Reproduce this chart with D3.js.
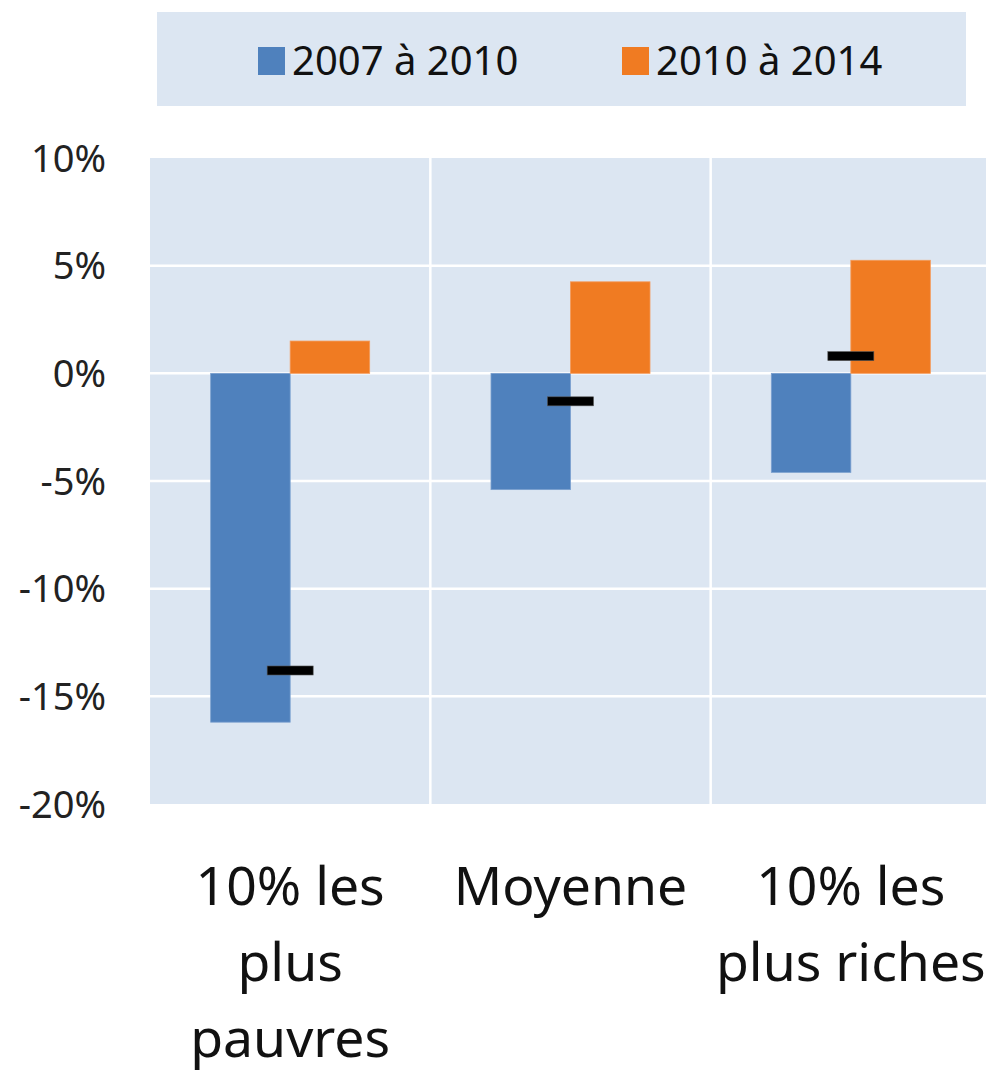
<!DOCTYPE html>
<html>
<head>
<meta charset="utf-8">
<script src="https://cdn.jsdelivr.net/npm/d3@7/dist/d3.min.js"></script>
<style>
  html, body { margin: 0; padding: 0; background: #fff; }
  svg { display: block; font-family: "Noto Sans", sans-serif; }
</style>
</head>
<body>
<svg class="chart"></svg>
<script>
const width = 986,
  height = 1070;

// data
const categories = ["10% les plus pauvres", "Moyenne", "10% les plus riches"];
const categoryLines = [["10% les", "plus", "pauvres"], ["Moyenne"], ["10% les", "plus riches"]];
const seriesNames = ["2007 à 2010", "2010 à 2014"];
const values2007 = [-16.2, -5.4, -4.6];
const values2010 = [1.5, 4.25, 5.25];
const totals = [-13.8, -1.3, 0.8];
const yTicks = [10, 5, 0, -5, -10, -15, -20];

const colors = ["#4f81bd", "#f07b22"];
const plotBg = "#dce6f2";

const margin = { top: 158, right: -5, bottom: 266, left: 150 };

let chart = d3.select(".chart")
  .attr("width", width)
  .attr("height", height);

let x0 = d3.scaleBand()
  .domain(categories)
  .range([margin.left, width - margin.right])
  .padding(0);

let x1 = d3.scaleBand()
  .domain(seriesNames)
  .range([0, x0.bandwidth()])
  .paddingInner(0)
  .paddingOuter(0.763);

let y = d3.scaleLinear()
  .domain([-20, 10])
  .range([height - margin.bottom, margin.top]);

// plot background
chart.append("rect")
  .attr("x", margin.left)
  .attr("y", margin.top)
  .attr("width", width - margin.right - margin.left)
  .attr("height", y(-20) - y(10))
  .attr("fill", plotBg);

// horizontal gridlines
chart.append("g").selectAll("line")
  .data(yTicks.filter(d => d > -20 && d < 10))
  .enter().append("line")
  .attr("x1", margin.left)
  .attr("x2", width - margin.right)
  .attr("y1", d => y(d))
  .attr("y2", d => y(d))
  .attr("stroke", "#fff")
  .attr("stroke-width", 2.5);

// vertical gridlines between categories
chart.append("g").selectAll("line")
  .data(categories.slice(1))
  .enter().append("line")
  .attr("x1", d => x0(d))
  .attr("x2", d => x0(d))
  .attr("y1", y(10))
  .attr("y2", y(-20))
  .attr("stroke", "#fff")
  .attr("stroke-width", 2.5);

// bars
let rows = categories.map((c, i) => ({ cat: c, vals: [values2007[i], values2010[i]] }));

let groups = chart.append("g").selectAll("g")
  .data(rows)
  .enter().append("g")
  .attr("transform", d => `translate(${x0(d.cat)},0)`);

groups.selectAll("rect")
  .data(d => d.vals.map((v, j) => ({ s: seriesNames[j], v: v, j: j })))
  .enter().append("rect")
  .attr("x", d => x1(d.s))
  .attr("width", x1.bandwidth())
  .attr("y", d => y(Math.max(0, d.v)))
  .attr("height", d => Math.abs(y(d.v) - y(0)))
  .attr("fill", d => colors[d.j])
  .attr("stroke", d => d.j === 0 ? "#7aa0cf" : "#f49a5a")
  .attr("stroke-width", 0.8);

// total markers
chart.append("g").selectAll("rect")
  .data(totals)
  .enter().append("rect")
  .attr("x", (d, i) => x0(categories[i]) + x0.bandwidth() / 2 - 23)
  .attr("y", d => y(d) - 4.5)
  .attr("width", 46)
  .attr("height", 9)
  .attr("fill", "#000")
  .attr("stroke", "#555")
  .attr("stroke-width", 0.6);

// y tick labels
chart.append("g").selectAll("text")
  .data(yTicks)
  .enter().append("text")
  .attr("x", 106)
  .attr("y", d => y(d))
  .attr("dy", "0.36em")
  .attr("text-anchor", "end")
  .attr("font-size", 38)
  .attr("fill", "#222")
  .text(d => d + "%");

// category labels
let catLabels = chart.append("g").selectAll("text")
  .data(categories)
  .enter().append("text")
  .attr("text-anchor", "middle")
  .attr("font-size", 53.5)
  .attr("fill", "#111");

catLabels.selectAll("tspan")
  .data((d, i) => categoryLines[i].map(l => ({ l: l, c: d })))
  .enter().append("tspan")
  .attr("x", d => x0(d.c) + x0.bandwidth() / 2)
  .attr("y", (d, k) => 905 + k * 76)
  .text(d => d.l);

// legend
let legend = chart.append("g");
legend.append("rect")
  .attr("x", 157)
  .attr("y", 12)
  .attr("width", 809)
  .attr("height", 94)
  .attr("fill", plotBg);

let legendX = [258, 622];
let items = legend.selectAll("g")
  .data(seriesNames)
  .enter().append("g")
  .attr("transform", (d, i) => `translate(${legendX[i]},0)`);

items.append("rect")
  .attr("x", 0)
  .attr("y", 47)
  .attr("width", 27)
  .attr("height", 28)
  .attr("fill", (d, i) => colors[i]);

items.append("text")
  .attr("x", 34)
  .attr("y", 75)
  .attr("font-size", 40)
  .attr("fill", "#111")
  .text(d => d);
</script>
</body>
</html>
